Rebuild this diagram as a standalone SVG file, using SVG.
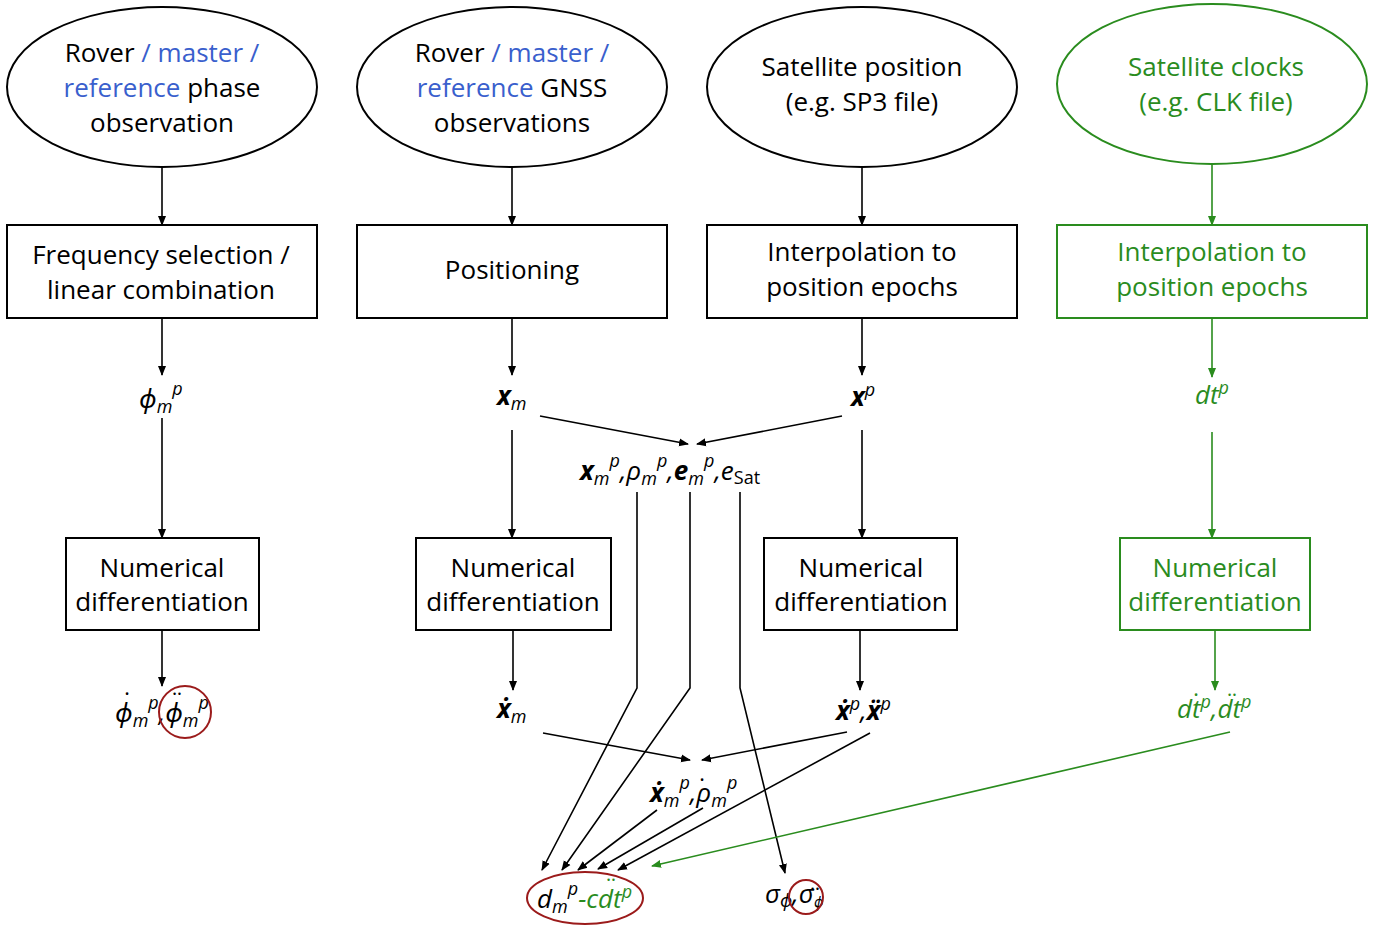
<svg xmlns="http://www.w3.org/2000/svg" width="1384" height="925" viewBox="0 0 1384 925">
<defs>
<marker id="ab" viewBox="0 0 10 10" refX="9" refY="5" markerWidth="10" markerHeight="10" markerUnits="userSpaceOnUse" orient="auto"><path d="M0,1 L10,5 L0,9 z" fill="#000"/></marker>
<marker id="ag" viewBox="0 0 10 10" refX="9" refY="5" markerWidth="10" markerHeight="10" markerUnits="userSpaceOnUse" orient="auto"><path d="M0,1 L10,5 L0,9 z" fill="#2a8c1e"/></marker>
<style>
.n{fill:#fff;stroke:#000;stroke-width:2}
.g{fill:#fff;stroke:#2a8c1e;stroke-width:2}
.t{font-family:"Open Sans","Noto Sans",sans-serif;font-size:26px;fill:#000;text-anchor:middle}
.m{font-family:"Open Sans","Noto Sans",sans-serif;font-size:26px;font-style:italic;fill:#000}
.dt{font-family:"Open Sans","Noto Sans",sans-serif;font-size:26px;fill:#000;text-anchor:middle}
.tg{fill:#2a8c1e}
.b{fill:#3a5fcd}
.s{font-size:18px}
.bd{font-weight:bold}
.c{fill:none;stroke:#000;stroke-width:1.6;marker-end:url(#ab)}
.cg{fill:none;stroke:#2a8c1e;stroke-width:1.6;marker-end:url(#ag)}
.r{fill:none;stroke:#9b1b1b;stroke-width:2}
</style>
</defs>
<g id="connectors">
<path class="c" d="M162,167 V225"/>
<path class="c" d="M512,167 V225"/>
<path class="c" d="M862,167 V225"/>
<path class="cg" d="M1212,165 V225"/>
<path class="c" d="M162,318 V375"/>
<path class="c" d="M512,318 V375"/>
<path class="c" d="M862,318 V375"/>
<path class="cg" d="M1212,318 V377"/>
<path class="c" d="M162,418 V538"/>
<path class="c" d="M512,430 V538"/>
<path class="c" d="M862,430 V538"/>
<path class="cg" d="M1212,432 V538"/>
<path class="c" d="M162,630 V686"/>
<path class="c" d="M513,630 V690"/>
<path class="c" d="M860,630 V690"/>
<path class="cg" d="M1215,630 V690"/>
<path class="c" d="M540,416 L688,444"/>
<path class="c" d="M842,416 L697,444"/>
<path class="c" d="M637,492 V688 L542,870"/>
<path class="c" d="M690,492 V688 L562,870"/>
<path class="c" d="M740,492 V688 L785,873"/>
<path class="c" d="M543,733 L690,760"/>
<path class="c" d="M847,732 L702,760"/>
<path class="c" d="M657,810 L578,870"/>
<path class="c" d="M703,808 L598,869"/>
<path class="c" d="M870,733 L618,870"/>
<path class="cg" d="M1230,732 L652,866"/>
</g>
<g id="e1"><ellipse class="n" cx="162" cy="87" rx="155" ry="80"/>
<text class="t" x="162" y="62">Rover <tspan class="b">/ master /</tspan></text>
<text class="t" x="162" y="97"><tspan class="b">reference</tspan> phase</text>
<text class="t" x="162" y="132">observation</text></g>
<g id="e2"><ellipse class="n" cx="512" cy="87" rx="155" ry="80"/>
<text class="t" x="512" y="62">Rover <tspan class="b">/ master /</tspan></text>
<text class="t" x="512" y="97"><tspan class="b">reference</tspan> GNSS</text>
<text class="t" x="512" y="132">observations</text></g>
<g id="e3"><ellipse class="n" cx="862" cy="87" rx="155" ry="80"/>
<text class="t" x="862" y="76">Satellite position</text>
<text class="t" x="862" y="111">(e.g. SP3 file)</text></g>
<g id="e4"><ellipse class="g" cx="1212" cy="84" rx="155" ry="80"/>
<text class="t tg" x="1216" y="76">Satellite clocks</text>
<text class="t tg" x="1216" y="111">(e.g. CLK file)</text></g>
<g id="b1"><rect class="n" x="7" y="225" width="310" height="93"/>
<text class="t" x="161" y="264">Frequency selection /</text>
<text class="t" x="161" y="299">linear combination</text></g>
<g id="b2"><rect class="n" x="357" y="225" width="310" height="93"/>
<text class="t" x="512" y="279">Positioning</text></g>
<g id="b3"><rect class="n" x="707" y="225" width="310" height="93"/>
<text class="t" x="862" y="261">Interpolation to</text>
<text class="t" x="862" y="296">position epochs</text></g>
<g id="b4"><rect class="g" x="1057" y="225" width="310" height="93"/>
<text class="t tg" x="1212" y="261">Interpolation to</text>
<text class="t tg" x="1212" y="296">position epochs</text></g>
<g id="n1"><rect class="n" x="66" y="538" width="193" height="92"/>
<text class="t" x="162" y="577">Numerical</text>
<text class="t" x="162" y="611">differentiation</text></g>
<g id="n2"><rect class="n" x="416" y="538" width="195" height="92"/>
<text class="t" x="513" y="577">Numerical</text>
<text class="t" x="513" y="611">differentiation</text></g>
<g id="n3"><rect class="n" x="764" y="538" width="193" height="92"/>
<text class="t" x="861" y="577">Numerical</text>
<text class="t" x="861" y="611">differentiation</text></g>
<g id="n4"><rect class="g" x="1120" y="538" width="190" height="92"/>
<text class="t tg" x="1215" y="577">Numerical</text>
<text class="t tg" x="1215" y="611">differentiation</text></g>
<g id="l-phi"><text class="m" x="139" y="408">ϕ<tspan class="s" dy="5">m</tspan><tspan class="s" dy="-18">p</tspan></text></g>
<g id="l-xm"><text class="m" x="497" y="405"><tspan class="bd">x</tspan><tspan class="s" dy="5">m</tspan></text></g>
<g id="l-xp"><text class="m" x="851" y="406"><tspan class="bd">x</tspan><tspan class="s" dy="-10">p</tspan></text></g>
<g id="l-dt"><text class="m tg" x="1195" y="404">dt<tspan class="s" dy="-10">p</tspan></text></g>
<g id="l-row"><text class="m" x="580" y="480"><tspan class="bd">x</tspan><tspan class="s" dy="5">m</tspan><tspan class="s" dy="-18">p</tspan><tspan dy="13">,ρ</tspan><tspan class="s" dy="5">m</tspan><tspan class="s" dy="-18">p</tspan><tspan dy="13">,</tspan><tspan class="bd">e</tspan><tspan class="s" dy="5">m</tspan><tspan class="s" dy="-18">p</tspan><tspan dy="13">,e</tspan><tspan class="s" dy="4" font-style="normal">Sat</tspan></text></g>
<g id="l-phidot"><text class="m" x="115" y="722">ϕ<tspan class="s" dy="5">m</tspan><tspan class="s" dy="-18">p</tspan><tspan dy="13">,ϕ</tspan><tspan class="s" dy="5">m</tspan><tspan class="s" dy="-18">p</tspan></text>
<text class="dt" x="127" y="711">˙</text><text class="dt" x="177" y="711">¨</text>
<circle class="r" cx="185" cy="712" r="26"/></g>
<g id="l-xmdot"><text class="m" x="497" y="718"><tspan class="bd">ẋ</tspan><tspan class="s" dy="5">m</tspan></text></g>
<g id="l-xpdot"><text class="m" x="836" y="720"><tspan class="bd">ẋ</tspan><tspan class="s" dy="-10">p</tspan><tspan dy="10">,</tspan><tspan class="bd">ẍ</tspan><tspan class="s" dy="-10">p</tspan></text></g>
<g id="l-dtdot"><text class="m tg" x="1177" y="718">dt<tspan class="s" dy="-10">p</tspan><tspan dy="10">,dt</tspan><tspan class="s" dy="-10">p</tspan></text>
<text class="dt tg" x="1196" y="712">˙</text><text class="dt tg" x="1232" y="712">¨</text></g>
<g id="l-xrdot"><text class="m" x="650" y="802"><tspan class="bd">ẋ</tspan><tspan class="s" dy="5">m</tspan><tspan class="s" dy="-18">p</tspan><tspan dy="13">,ρ</tspan><tspan class="s" dy="5">m</tspan><tspan class="s" dy="-18">p</tspan></text>
<text class="dt" x="702" y="797">˙</text></g>
<g id="l-d"><text class="m" x="537" y="908">d<tspan class="s" dy="5">m</tspan><tspan class="s" dy="-18">p</tspan><tspan class="tg" dy="13">-cdt</tspan><tspan class="s tg" dy="-10">p</tspan></text>
<text class="dt tg" x="611" y="897">¨</text>
<ellipse class="r" cx="585" cy="898" rx="58" ry="26"/></g>
<g id="l-sigma"><text class="m" x="765" y="903" font-style="normal" font-size="22">σ<tspan class="s" font-size="14" font-style="italic" dy="4">ϕ</tspan><tspan dy="-4">,σ</tspan><tspan font-size="14" font-style="italic" dy="4">ϕ</tspan></text>
<text class="dt" x="815" y="906" font-size="16">¨</text>
<circle class="r" cx="806" cy="897" r="17"/></g>
</svg>
